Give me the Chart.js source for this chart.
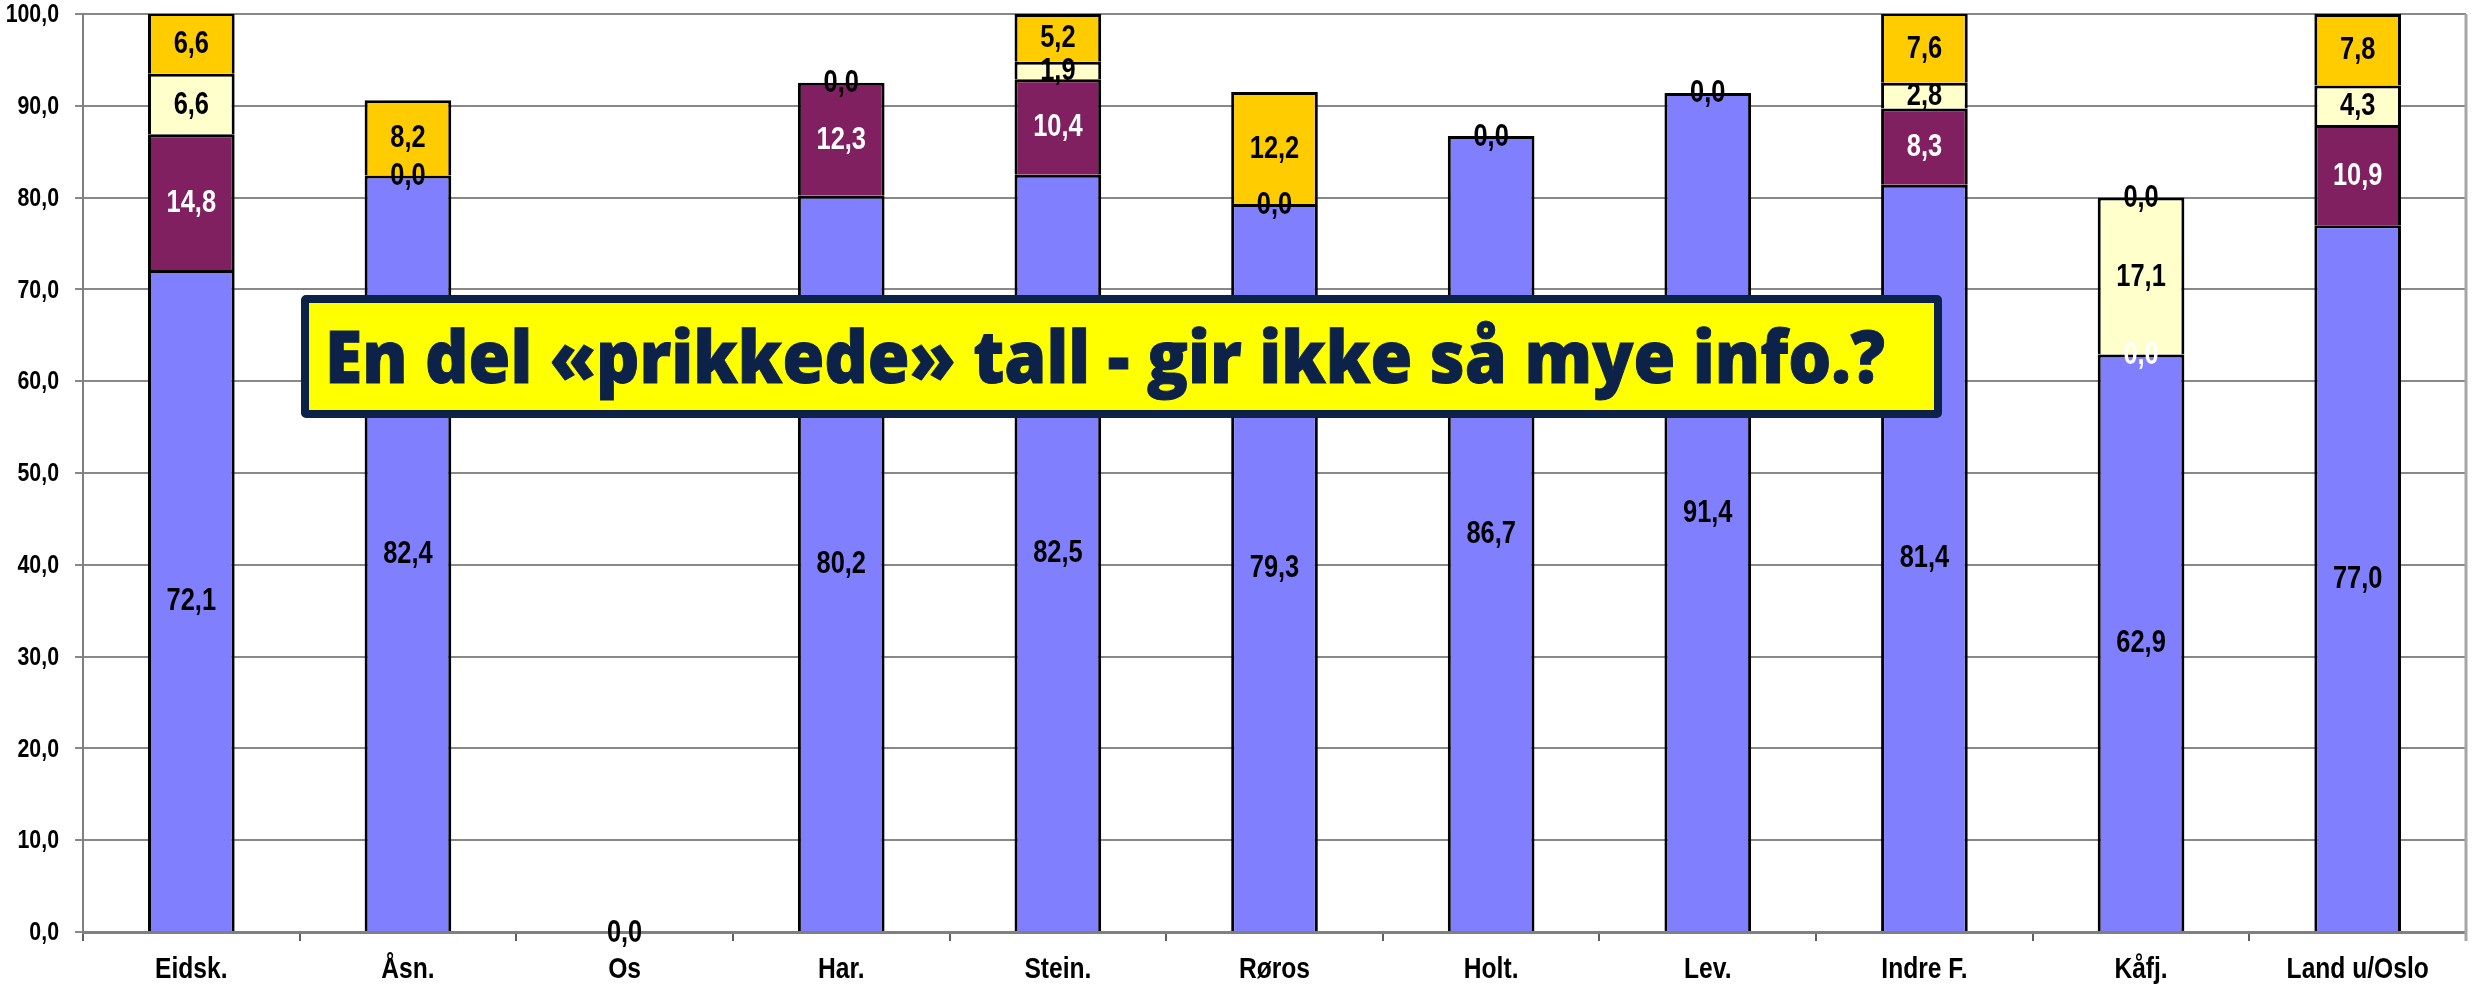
<!DOCTYPE html>
<html>
<head>
<meta charset="utf-8">
<script src="https://cdn.jsdelivr.net/npm/chart.js@4"></script>
<style>
  html, body { margin: 0; padding: 0; background: #fff; }
  #wrap { position: relative; width: 2483px; height: 994px; }
  #note {
    position: absolute; left: 301px; top: 295px; width: 1625px; height: 107px;
    background: #ffff00; border: 8px solid #0c2249; border-radius: 5px;
    overflow: hidden;
  }
  #note span {
    position: absolute; left: 16px; top: 2px; white-space: nowrap;
    font-family: "Open Sans", sans-serif; font-weight: 800; font-size: 73px;
    color: #0c2249; -webkit-text-stroke: 1px #0c2249; transform-origin: 0 0;
  }
</style>
</head>
<body>
<div id="wrap">
  <canvas id="myChart"></canvas>
  <div id="note"><span>En del «prikkede» tall - gir ikke så mye info.?</span></div>
</div>
<script>
const categories = ['Eidsk.', 'Åsn.', 'Os', 'Har.', 'Stein.', 'Røros', 'Holt.', 'Lev.', 'Indre F.', 'Kåfj.', 'Land u/Oslo']
const blueValues = [72.1, 82.4, 0.0, 80.2, 82.5, 79.3, 86.7, 91.4, 81.4, 62.9, 77.0]
const purpleValues = [14.8, null, null, 12.3, 10.4, null, null, null, 8.3, 0.0, 10.9]
const paleValues = [6.6, 0.0, null, 0.0, 1.9, 0.0, 0.0, 0.0, 2.8, 17.1, 4.3]
const goldValues = [6.6, 8.2, null, null, 5.2, 12.2, null, null, 7.6, 0.0, 7.8]
const yTicks = [0, 10, 20, 30, 40, 50, 60, 70, 80, 90, 100]

// no Arial Narrow here, so squeeze Liberation Sans bold sideways
const SQUEEZE = 0.82
const fmt = v => v.toFixed(1).replace('.', ',')

function narrowText(ctx, text, x, y, size, color, align) {
    ctx.save()
    ctx.font = 'bold ' + size + 'px "Liberation Sans", Arial, sans-serif'
    ctx.fillStyle = color
    ctx.textAlign = align
    ctx.textBaseline = 'middle'
    ctx.translate(x, y)
    ctx.scale(SQUEEZE, 1)
    ctx.fillText(text, 0, 0)
    ctx.restore()
}

// values in the middle of every segment
const valueLabels = {
    id: 'valueLabels',
    afterDatasetsDraw(chart) {
        chart.data.datasets.forEach((ds, i) => {
            chart.getDatasetMeta(i).data.forEach((bar, j) => {
                const v = ds.data[j]
                if (v === null || v === undefined) return
                narrowText(chart.ctx, fmt(v), bar.x, (bar.y + bar.base) / 2 + 1, 31, ds.labelColor, 'center')
            })
        })
    }
}

// axis labels, placed from the chart's own scales
const axisLabels = {
    id: 'axisLabels',
    afterDraw(chart) {
        const x = chart.scales.x, y = chart.scales.y
        x.ticks.forEach((t, i) => {
            narrowText(chart.ctx, categories[t.value], x.getPixelForTick(i), x.top + 38, 30, '#000', 'center')
        })
        y.ticks.forEach(t => {
            narrowText(chart.ctx, fmt(t.value), y.right - 24, y.getPixelForValue(t.value) + 1, 26, '#000', 'right')
        })
        // right frame line
        const a = chart.chartArea
        const ctx = chart.ctx
        ctx.save()
        ctx.strokeStyle = '#a6a6a6'
        ctx.lineWidth = 3
        ctx.beginPath()
        ctx.moveTo(a.right, a.top)
        ctx.lineTo(a.right, a.bottom + 9)
        ctx.stroke()
        ctx.restore()
    }
}

const common = { borderColor: '#000', borderWidth: 3, borderSkipped: 'start', barPercentage: 1, categoryPercentage: 0.4 }

const ctx = document.getElementById('myChart').getContext('2d')
const myChart = new Chart(ctx, {
    type: 'bar',
    data: {
        labels: categories,
        datasets: [
            { ...common, label: 'a', data: blueValues, backgroundColor: '#8080ff', labelColor: '#000' },
            { ...common, label: 'b', data: purpleValues, backgroundColor: '#802060', labelColor: '#fff' },
            { ...common, label: 'c', data: paleValues, backgroundColor: '#ffffcc', labelColor: '#000' },
            { ...common, label: 'd', data: goldValues, backgroundColor: '#ffcc00', labelColor: '#000' }
        ]
    },
    options: {
        responsive: true,
        maintainAspectRatio: false,
        animation: false,
        layout: { padding: { top: 14, right: 17, left: 0, bottom: 0 } },
        plugins: { legend: { display: false }, tooltip: { enabled: false } },
        scales: {
            x: {
                stacked: true,
                grid: { display: true, drawOnChartArea: false, tickLength: 9, color: '#606060', lineWidth: 2 },
                border: { color: '#808080', width: 3 },
                ticks: { display: false },
                afterFit(scale) { scale.height = 62 }
            },
            y: {
                stacked: true,
                min: 0,
                max: 100,
                afterBuildTicks(scale) { scale.ticks = yTicks.map(v => ({ value: v })) },
                grid: { color: '#888', lineWidth: 2, tickLength: 8 },
                border: { color: '#808080', width: 2 },
                ticks: { display: false },
                afterFit(scale) { scale.width = 83 }
            }
        }
    },
    plugins: [valueLabels, axisLabels]
})

// squeeze the note text so it fills the box like the original
const span = document.querySelector('#note span')
const fitNote = () => {
    const w = span.getBoundingClientRect().width / (span._sx || 1)
    span._sx = 1560 / w
    span.style.transform = 'scaleX(' + span._sx + ')'
}
fitNote()
if (document.fonts) document.fonts.ready.then(fitNote)
</script>
</body>
</html>
